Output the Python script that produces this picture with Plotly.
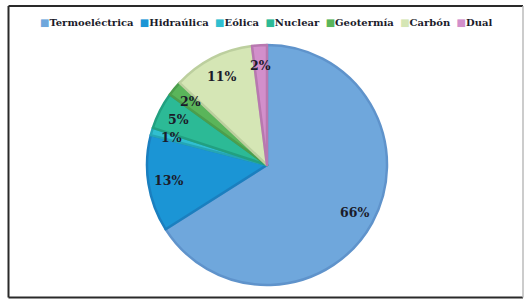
import math
import plotly.graph_objects as go

labels = ["Termoeléctrica", "Hidraúlica", "Eólica", "Nuclear", "Geotermía", "Carbón", "Dual"]
values = [66, 13, 1, 5, 2, 11, 2]
colors = ["#6fa7dc", "#1b95d5", "#30bfd0", "#2cba96", "#5ab55a", "#d5e6b5", "#d28fcb"]
edge_colors = ["#5f93cb", "#1a7fbf", "#25a5b5", "#22a080", "#4c9e4c", "#bccf9e", "#b878b0"]

W, H = 525, 300
dom_x = [147 / W, 387 / W]
dom_y = [15 / H, 255 / H]

fig = go.Figure(go.Pie(
    labels=labels, values=values, sort=False, direction="clockwise", rotation=0,
    marker=dict(colors=colors, line=dict(color=edge_colors, width=2.5)),
    textinfo="none", showlegend=False, hoverinfo="label+percent",
    domain=dict(x=dom_x, y=dom_y),
))

# percentage labels placed at slice mid-angles (derived from values)
cx = (dom_x[0] + dom_x[1]) / 2
cy = (dom_y[0] + dom_y[1]) / 2
r_px = min((dom_x[1] - dom_x[0]) * W, (dom_y[1] - dom_y[0]) * H) / 2
R = 0.83 * r_px
total = sum(values)
cum = 0
annotations = []
for v in values:
    mid = (cum + v / 2) / total
    cum += v
    th = 2 * math.pi * mid
    annotations.append(dict(
        x=cx + R * math.sin(th) / W, y=cy + R * math.cos(th) / H,
        xref="paper", yref="paper", showarrow=False,
        xanchor="center", yanchor="middle",
        text=f"<b>{round(100 * v / total)}%</b>",
        font=dict(family="DejaVu Serif", size=12.5, color="#1b1b2a"),
    ))

# legend line built from labels and colours
parts = [f"<span style='color:{c}'>■</span><b>{l}</b>" for l, c in zip(labels, colors)]
legend_text = "\u00a0\u00a0".join(parts)
annotations.append(dict(
    x=266 / W, y=1 - 22 / H, xref="paper", yref="paper", showarrow=False,
    text=legend_text, xanchor="center", yanchor="middle",
    font=dict(family="DejaVu Serif", size=10, color="#1b1b2a"),
))

shapes = [
    dict(type="line", xref="paper", yref="paper", x0=8.5 / W, x1=523 / W, y0=1 - 6 / H, y1=1 - 6 / H,
         line=dict(color="#2a2a2a", width=2)),
    dict(type="line", xref="paper", yref="paper", x0=8.5 / W, x1=8.5 / W, y0=1 - 6 / H, y1=1 - 297.5 / H,
         line=dict(color="#2a2a2a", width=2)),
    dict(type="line", xref="paper", yref="paper", x0=8.5 / W, x1=523 / W, y0=1 - 297.5 / H, y1=1 - 297.5 / H,
         line=dict(color="#2a2a2a", width=2)),
    dict(type="line", xref="paper", yref="paper", x0=523 / W, x1=523 / W, y0=1 - 6 / H, y1=1 - 297.5 / H,
         line=dict(color="#bbbbbb", width=1.5)),
]

fig.update_layout(
    width=W, height=H, margin=dict(l=0, r=0, t=0, b=0),
    paper_bgcolor="white", plot_bgcolor="white",
    annotations=annotations, shapes=shapes,
)
fig.write_html("out.html", include_plotlyjs=True, config={"displayModeBar": False},
               post_script="document.body.style.margin='0';document.body.style.overflow='hidden';")
